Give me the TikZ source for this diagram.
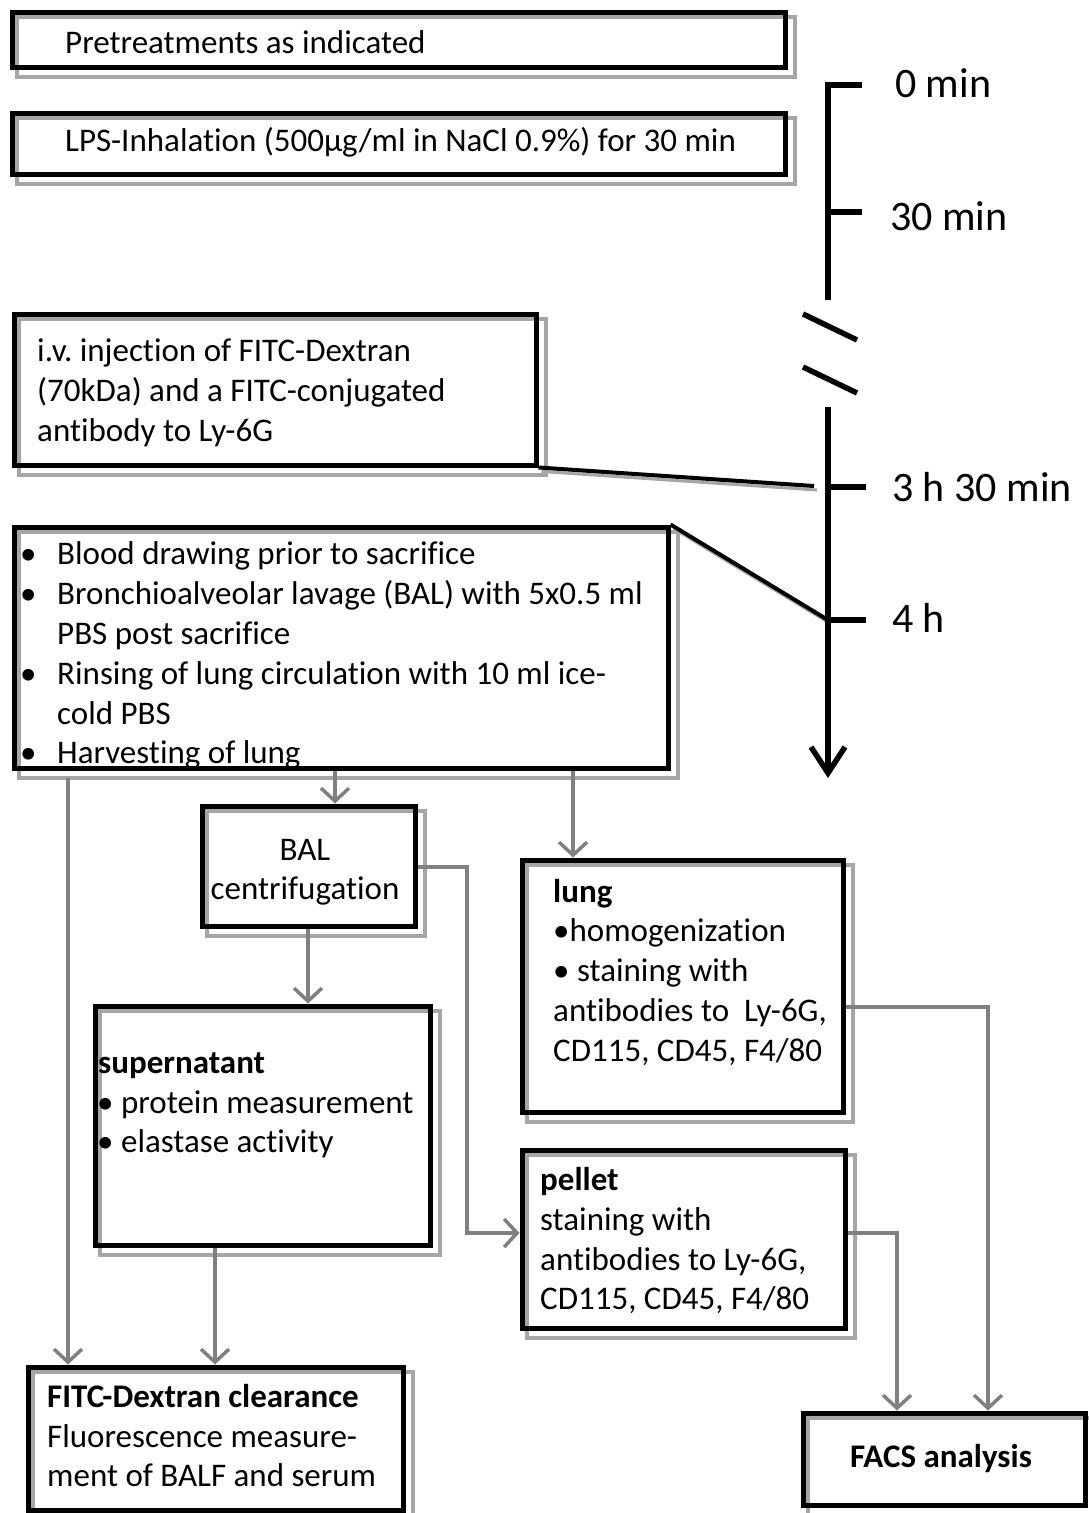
\documentclass[tikz,border=0pt]{standalone}
\usepackage{fontspec}
\setmainfont{Carlito}[Ligatures=NoCommon]
\usetikzlibrary{arrows.meta,fit}
\definecolor{shadowgray}{HTML}{A6A6A6}
\definecolor{arrowgray}{HTML}{808080}
\pgfdeclarelayer{bg}
\pgfsetlayers{bg,main}
\frenchspacing
\begin{document}
\begin{tikzpicture}[x=1pt,y=-1pt,
  box/.style={draw=black, line width=5pt, inner sep=0pt},
  shad/.style={draw=shadowgray, line width=4pt},
  flow/.style={draw=arrowgray, line width=3.5pt, -{Straight Barb[length=13pt,width=28pt]}},
  tl/.style={draw=black, line width=5.5pt},
  link/.style={draw=black, line width=4pt},
  linkshad/.style={draw=shadowgray, line width=3pt},
  txt/.style={anchor=base west, inner sep=0pt, font=\fontsize{33}{40}\selectfont},
  btxt/.style={txt, font=\fontsize{33}{40}\selectfont\bfseries},
  big/.style={anchor=base west, inner sep=0pt, font=\fontsize{42}{50}\selectfont}]
\useasboundingbox (0,0) rectangle (1088,1513);

% ---------- boxes ----------
\node[box, fit={(12,12)(785,67)}] (pre) {};
\node[box, fit={(12,113)(785,174)}] (lps) {};
\node[box, fit={(14,314)(536,465)}] (iv) {};
\node[box, fit={(14,527)(668,768)}] (blood) {};
\node[box, fit={(202,806)(415,926)}] (bal) {};
\node[box, fit={(95,1006)(430,1245)}] (sup) {};
\node[box, fit={(522,860)(843,1112)}] (lung) {};
\node[box, fit={(522,1150)(845,1328)}] (pel) {};
\node[box, fit={(28,1367)(403,1510)}] (fitc) {};
\node[box, fit={(803,1413)(1085,1505)}] (facs) {};

\begin{pgfonlayer}{bg}
\foreach \b in {pre,lps,iv,blood,bal,sup,lung,pel,fitc,facs}
  \draw[shad] ([shift={(7,7)}]\b.north west) rectangle ([shift={(7,7)}]\b.south east);
\end{pgfonlayer}

% ---------- texts ----------
\node[txt] (tpre) at (65,53) {Pretreatments as indicated};
\node[txt] (tlps) at (65,151) {LPS-Inhalation (500µg/ml in NaCl 0.9\%) for 30 min};

\node[txt] (tiv1) at (37,361) {i.v. injection of FITC-Dextran};
\node[txt] (tiv2) at (37,401) {(70kDa) and a FITC-conjugated};
\node[txt] (tiv3) at (37,441) {antibody to Ly-6G};

\node[txt] (bu1) at (20,564) {•};
\node[txt] (tb1) at (57,564) {Blood drawing prior to sacrifice};
\node[txt] (bu2) at (20,604) {•};
\node[txt] (tb2) at (57,604) {Bronchioalveolar lavage (BAL) with 5x0.5 ml};
\node[txt] (tb3) at (57,644) {PBS post sacrifice};
\node[txt] (bu3) at (20,684) {•};
\node[txt] (tb4) at (57,684) {Rinsing of lung circulation with 10 ml ice-};
\node[txt] (tb5) at (57,724) {cold PBS};
\node[txt] (bu4) at (20,763) {•};
\node[txt] (tb6) at (57,763) {Harvesting of lung};

\node[txt, anchor=base] (tbal1) at (305,860) {BAL};
\node[txt, anchor=base] (tbal2) at (305,899) {centrifugation};

\node[btxt] (tsup1) at (98,1073) {supernatant};
\node[txt] (tsup2) at (97,1113) {• protein measurement};
\node[txt] (tsup3) at (97,1152) {• elastase activity};

\node[btxt] (tl1) at (553,902) {lung};
\node[txt] (tl2) at (553,941) {•homogenization};
\node[txt] (tl3) at (553,981) {• staining with};
\node[txt] (tl4) at (553,1021) {antibodies to\ \ Ly-6G,};
\node[txt] (tl5) at (553,1061) {CD115, CD45, F4/80};

\node[btxt] (tp1) at (540,1190) {pellet};
\node[txt] (tp2) at (540,1230) {staining with};
\node[txt] (tp3) at (540,1270) {antibodies to Ly-6G,};
\node[txt] (tp4) at (540,1309) {CD115, CD45, F4/80};

\node[btxt] (tf1) at (47,1407) {FITC-Dextran clearance};
\node[txt] (tf2) at (47,1447) {Fluorescence measure-};
\node[txt] (tf3) at (47,1486) {ment of BALF and serum};

\node[btxt, anchor=base] (tfacs) at (941,1467) {FACS analysis};

% ---------- timeline ----------
\coordinate (T0) at (828,85);
\coordinate (T0r) at (862,85);
\coordinate (Tbrk1) at (828,300);
\coordinate (Tbrk2) at (828,407);
\coordinate (T30) at (828,212);
\coordinate (T30r) at (862,212);
\coordinate (T330) at (828,487);
\coordinate (T330r) at (866,487);
\coordinate (T4) at (828,620);
\coordinate (T4r) at (866,620);
\coordinate (Tend) at (828,778);
\coordinate (S1a) at (803,314);
\coordinate (S1b) at (857,340);
\coordinate (S2a) at (803,367);
\coordinate (S2b) at (857,393);

\draw[tl, line join=miter] (T0r) -- (T0) -- (Tbrk1);
\draw[tl] (T30) -- (T30r);
\draw[tl] (S1a) -- (S1b);
\draw[tl] (S2a) -- (S2b);
\draw[tl, -{Straight Barb[length=26pt,width=34pt]}] (Tbrk2) -- (Tend);
\draw[tl] (T330) -- (T330r);
\draw[tl] (T4) -- (T4r);

\node[big] (l0) at (895,97) {0 min};
\node[big] (l30) at (890,230) {30 min};
\node[big] (l330) at (892,501) {3 h 30 min};
\node[big] (l4) at (892,632) {4 h};

% ---------- links to the timeline ----------
\coordinate (ivEnd) at (814,486);
\begin{pgfonlayer}{bg}
\draw[linkshad] ([shift={(3,4)}]iv.south east) -- ([shift={(3,4)}]ivEnd);
\draw[linkshad] ([shift={(3,4)}]blood.north east) -- ([shift={(3,4)}]T4);
\end{pgfonlayer}
\draw[link] (iv.south east) -- (ivEnd);
\draw[link] (blood.north east) -- (T4);

% ---------- gray flow arrows ----------
\coordinate (xA) at (68,778);
\coordinate (xB) at (335,0);
\coordinate (xC) at (573,0);
\coordinate (xD) at (215,0);
\coordinate (xE) at (467,0);
\coordinate (xH) at (308,0);
\coordinate (yE) at (0,867);
\coordinate (yP) at (0,1233);
\coordinate (yL) at (0,1007);
\coordinate (xF) at (897,0);
\coordinate (xG) at (988,0);

\draw[flow] (xA) -- (xA |- fitc.north);
\draw[flow] (blood.south -| xB) -- (bal.north -| xB);
\draw[flow] (blood.south -| xC) -- (lung.north -| xC);
\draw[flow] (bal.south -| xH) -- (sup.north -| xH);
\draw[flow] (sup.south -| xD) -- (fitc.north -| xD);
\draw[flow] (bal.east |- yE) -| (xE |- yP) -- (pel.west |- yP);
\draw[flow] (pel.east |- yP) -| (xF |- facs.north);
\draw[flow] (lung.east |- yL) -| (xG |- facs.north);
\end{tikzpicture}
\end{document}
